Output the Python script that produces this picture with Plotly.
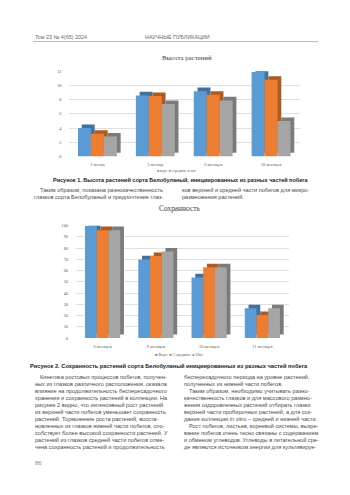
import plotly.graph_objects as go

W, H = 350, 495

# ---------------- data ----------------
cats1 = ["1 месяц", "3 месяца", "6 месяцев", "10 месяцев"]
height_top = [4.0, 8.6, 9.2, 11.9]
height_mid = [3.2, 8.5, 8.7, 10.8]
height_low = [2.8, 7.4, 7.9, 5.0]
names1 = ["верх", "середина", "низ"]

cats2 = ["6 месяцев", "9 месяцев", "10 месяцев", "11 месяцев"]
surv_top = [100, 70, 54, 26.5]
surv_mid = [96, 73, 63, 20.5]
surv_low = [96, 77, 63, 26.5]
names2 = ["Верх", "Середина", "Низ"]

header_left = "Том 23 № 4(65) 2024"
header_mid = "НАУЧНЫЕ ПУБЛИКАЦИИ"
title1 = "Высота растений"
title2 = "Сохранность"
caption1 = "Рисунок 1. Высота растений сорта Белобуланый, инициированных из разных частей побега"
caption2 = "Рисунок 2. Сохранность растений сорта Белобуланый инициированных из разных частей побега"

para1_left = ["Таким образом, показана разнокачественность",
              "глазков сорта Белобуланый и предпочтение глаз-"]
para1_right = ["ков верхней и средней части побегов для микро-",
               "размножения растений."]

body_left = ["Кинетика ростовых процессов побегов, получен-",
             "ных из глазков различного расположения, оказала",
             "влияние на продолжительность беспересадочного",
             "хранения и сохранность растений в коллекции. На",
             "рисунке 2 видно, что интенсивный рост растений",
             "из верхней части побегов уменьшает сохранность",
             "растений. Торможение роста растений, восста-",
             "новленных из глазков нижней части побегов, спо-",
             "собствует более высокой сохранности растений. У",
             "растений из глазков средней части побегов отме-",
             "чена сохранность растений и продолжительность"]
body_left_indent = [0]
body_right = ["беспересадочного периода на уровне растений,",
              "полученных из нижней части побегов.",
              "Таким образом, необходимо учитывать разно-",
              "качественность глазков и для массового размно-",
              "жения оздоровленных растений отбирать глазки",
              "верхней части пробирочных растений, а для соз-",
              "дания коллекции in vitro – средней и нижней части.",
              "Рост побегов, листьев, корневой системы, вызре-",
              "вание побегов очень тесно связаны с содержанием",
              "и обменом углеводов. Углеводы в питательной сре-",
              "де являются источником энергии для культивируе-"]
body_right_indent = [2, 7]
page_number = "86"

# ---------------- style ----------------
colors = ["#5B9BD5", "#ED7D31", "#A5A5A5"]
shades = ["#41719C", "#AE5A21", "#7B7B7B"]
TEXT = "#4a4a4a"
SANS = "Liberation Sans, Arial, sans-serif"
SERIF = "Liberation Serif, Times New Roman, serif"


def px(x):
    return x / W


def py(y):
    return 1 - y / H


fig = go.Figure()


def add_chart(cats, series, names, xa, ya, bar_w, dep_x, dep_y):
    offs = [-1.5 * bar_w, -0.5 * bar_w, 0.5 * bar_w]
    for i, vals in enumerate(series):
        # depth (side + top face)
        fig.add_trace(go.Bar(x=cats, y=vals, base=dep_y, offset=offs[i] + dep_x,
                             width=bar_w, marker=dict(color=shades[i], line_width=0),
                             xaxis=xa, yaxis=ya, showlegend=False, hoverinfo="skip"))
        # front face
        fig.add_trace(go.Bar(x=cats, y=vals, offset=offs[i], width=bar_w, name=names[i],
                             marker=dict(color=colors[i], line_width=0),
                             xaxis=xa, yaxis=ya, showlegend=False))


add_chart(cats1, [height_top, height_mid, height_low], names1, "x", "y", 0.224, 0.065, 0.5)
add_chart(cats2, [surv_top, surv_mid, surv_low], names2, "x2", "y2", 0.22, 0.07, 3.2)

axis_font = dict(family=SERIF, size=4.3, color="#595959")
fig.update_layout(
    width=W, height=H, margin=dict(l=0, r=0, t=0, b=0),
    paper_bgcolor="white", plot_bgcolor="white", barmode="overlay",
    xaxis=dict(domain=[px(68.5), px(300)], showgrid=False, showline=False, ticks="",
               tickfont=axis_font, anchor="y", ticklabelstandoff=4),
    yaxis=dict(domain=[py(156), py(70)], range=[0, 12], dtick=2, showgrid=True,
               gridcolor="#e0e0e0", gridwidth=0.6, zeroline=False, showline=False,
               tickfont=axis_font, anchor="x", ticklabelstandoff=6),
    xaxis2=dict(domain=[px(76), px(289)], showgrid=False, showline=False, ticks="",
                tickfont=axis_font, anchor="y2", ticklabelstandoff=5),
    yaxis2=dict(domain=[py(339.5), py(226)], range=[0, 100], dtick=10, showgrid=True,
                gridcolor="#e0e0e0", gridwidth=0.6, zeroline=False, showline=False,
                tickfont=axis_font, anchor="x2", ticklabelstandoff=7),
    showlegend=False,
)

ann = []


def text(x, y, s, size=5.6, color=TEXT, family=SANS, anchor="left"):
    ann.append(dict(x=px(x), y=py(y), xref="paper", yref="paper", text=s, showarrow=False,
                    xanchor=anchor, yanchor="middle",
                    font=dict(size=size, color=color, family=family)))


# header
text(33, 35, header_left, size=5.4, color="#6a6a6a")
text(143, 35, header_mid, size=5.4, color="#6a6a6a")

# chart titles
text(187, 56, title1, size=6.8, color="#404040", family=SERIF, anchor="center")
text(180, 209, title2, size=7.4, color="#404040", family=SERIF, anchor="center")


# legends as compact keys
def legend(xc, y, names, size):
    parts = [f"<span style='color:{c}'>■</span> {n}" for c, n in zip(colors, names)]
    text(xc, y, "  ".join(parts), size=size, color="#595959", family=SERIF, anchor="center")


legend(176, 171, names1, 3.6)
legend(179, 356, names2, 4.2)

# captions
text(181, 179.5, "<b>" + caption1 + "</b>", size=5.5, color="#222222", anchor="center")
text(168.5, 368, "<b>" + caption2 + "</b>", size=5.7, color="#222222", anchor="center")

# paragraph under figure 1
for k, s in enumerate(para1_left):
    text(38 if k == 0 else 32, 190 + k * 6.7, s)
for k, s in enumerate(para1_right):
    text(180, 190 + k * 6.7, s)

# body text columns
for k, s in enumerate(body_left):
    text(38 if k in body_left_indent else 33, 379 + k * 7.1, s)
for k, s in enumerate(body_right):
    text(187 if k in body_right_indent else 182, 379 + k * 7.1, s)

text(33, 466, page_number, size=6, color="#8a8a8a")

fig.update_layout(annotations=ann)
fig.add_shape(type="line", xref="paper", yref="paper", x0=px(33), x1=px(318),
              y0=py(40), y1=py(40), line=dict(color="#9a9a9a", width=0.7))

fig.write_html("out.html")
